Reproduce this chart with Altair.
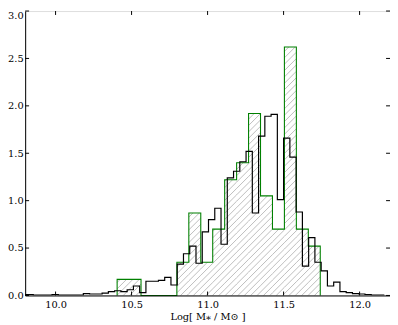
import altair as alt
import pandas as pd

# ---------------- data ----------------
black_start = 9.771
black_width = 0.04117
black_values = [0.01, 0.01, 0.005, 0.005, 0.005, 0.01, 0.005, 0.005, 0.005, 0.005,
                0.02, 0.015, 0.015, 0.025, 0.04, 0.05, 0.04, 0.06, 0.10, 0.03,
                0.15, 0.15, 0.16, 0.19, 0.11,
                0.33, 0.44, 0.52, 0.34, 0.67, 0.80, 0.92, 0.54, 1.24, 1.31,
                1.41, 1.52, 0.87, 1.68, 1.89, 1.91, 1.01, 1.66, 1.46, 0.88,
                0.31, 0.61, 0.35, 0.26, 0.10, 0.14, 0.04, 0.03, 0.02, 0.015,
                0.01, 0.005, 0.005]

green_start = 10.405
green_width = 0.0786
green_values = [0.17, 0.17, 0.0, 0.0, 0.0, 0.35, 0.87, 0.35, 0.70, 1.22,
                1.40, 1.92, 1.05, 0.70, 2.62, 0.70, 0.52]

x_ticks = [10.0, 10.5, 11.0, 11.5, 12.0]
y_ticks = [0.0, 0.5, 1.0, 1.5, 2.0, 2.5, 3.0]
x_title = "Log[ M\u204e / M\u2299 ]"

# ---------------- layout ----------------
W, H = 372, 290
XMIN, XMAX = 9.8, 12.2
YMIN, YMAX = 0.0, 3.0
FONT = "DejaVu Serif"


def step_table(start, width, values):
    n = len(values)
    xs = [start] + [start + i * width for i in range(n)] + [start + n * width] * 2
    ys = [0.0] + list(values) + [values[-1], 0.0]
    return pd.DataFrame({"x": xs, "y": ys, "i": list(range(len(xs)))})


black_df = step_table(black_start, black_width, black_values)
green_df = step_table(green_start, green_width, green_values)

# hatch segments inside the green histogram ("//" pattern)
sx = W / (XMAX - XMIN)
sy = H / (YMAX - YMIN)
spacing = 6.5
segs = []
c = -H
while c < W + spacing:
    for k, h in enumerate(green_values):
        if h <= 0:
            continue
        a = green_start + k * green_width
        A = (a - XMIN) * sx
        B = (a + green_width - XMIN) * sx
        Hh = h * sy
        X1 = max(A, c)
        X2 = min(B, c + Hh)
        if X2 > X1:
            segs.append({"x": XMIN + X1 / sx, "y": (X1 - c) / sy,
                         "x2": XMIN + X2 / sx, "y2": (X2 - c) / sy})
    c += spacing
hatch_df = pd.DataFrame(segs)

xscale = alt.Scale(domain=[XMIN, XMAX], nice=False, zero=False)
yscale = alt.Scale(domain=[YMIN, YMAX], nice=False, zero=False)

xaxis = alt.Axis(values=x_ticks, format=".1f", title=x_title, ticks=False, tickSize=0,
                 grid=False, labelPadding=4, titlePadding=3, zindex=1,
                 domainColor="black", labelFlush=False,
                 labelFont=FONT, labelFontSize=10, labelColor="black",
                 titleFont=FONT, titleFontSize=10, titleFontWeight="normal",
                 titleColor="black")
yaxis = alt.Axis(values=y_ticks, format=".1f", title=None, ticks=False, tickSize=0,
                 grid=False, labelPadding=2, zindex=1, domainColor="black",
                 labelFont=FONT, labelFontSize=10, labelColor="black",
                 labelBaseline={"condition": {"test": "datum.value >= 3", "value": "top"},
                                "value": "middle"})

hatch = alt.Chart(hatch_df).mark_rule(color="#a0a0a0", strokeWidth=0.7).encode(
    x=alt.X("x:Q", scale=xscale, axis=xaxis),
    y=alt.Y("y:Q", scale=yscale, axis=yaxis),
    x2="x2:Q", y2="y2:Q")

green = alt.Chart(green_df).mark_line(color="#008000", strokeWidth=1.1,
                                      interpolate="step-after").encode(
    x=alt.X("x:Q", scale=xscale), y=alt.Y("y:Q", scale=yscale), order="i:Q")

black = alt.Chart(black_df).mark_line(color="black", strokeWidth=1.2,
                                      interpolate="step-after", clip=True).encode(
    x=alt.X("x:Q", scale=xscale), y=alt.Y("y:Q", scale=yscale), order="i:Q")

xt = pd.DataFrame({"v": x_ticks})
yt = pd.DataFrame({"v": y_ticks})
TL = 4
tick_style = dict(color="black", strokeWidth=1)
xb = alt.Chart(xt).mark_rule(**tick_style).encode(
    x=alt.X("v:Q", scale=xscale), y=alt.value(H - TL), y2=alt.value(H))
xtop = alt.Chart(xt).mark_rule(**tick_style).encode(
    x=alt.X("v:Q", scale=xscale), y=alt.value(0), y2=alt.value(TL))
yl = alt.Chart(yt).mark_rule(**tick_style).encode(
    y=alt.Y("v:Q", scale=yscale), x=alt.value(0), x2=alt.value(TL))
yr = alt.Chart(yt).mark_rule(**tick_style).encode(
    y=alt.Y("v:Q", scale=yscale), x=alt.value(W - TL), x2=alt.value(W))

chart = alt.layer(hatch, green, black, xb, xtop, yl, yr).properties(
    width=W, height=H,
    autosize=alt.AutoSizeParams(type="none"),
    padding={"left": 17.5, "top": 0, "right": 0, "bottom": 26},
).configure_view(stroke="black", strokeWidth=1).configure_axis(
    labelFont=FONT, labelFontSize=10, labelColor="black",
    titleFont=FONT, titleFontSize=10, titleFontWeight="normal", titleColor="black",
    domainWidth=1,
).configure(background="white")

chart.save("out.html", embed_options={"renderer": "svg", "actions": False})
